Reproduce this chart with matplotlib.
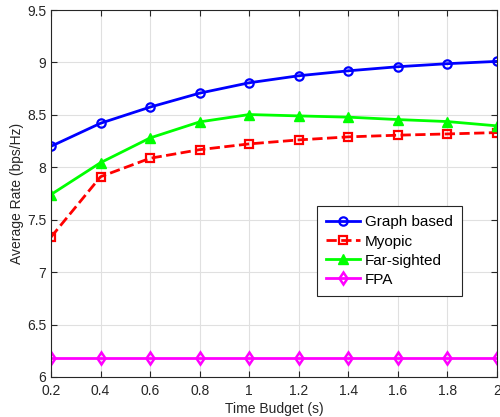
import matplotlib.pyplot as plt

plt.rcParams["font.family"] = ["Liberation Sans", "DejaVu Sans"]

time_budget = [0.2, 0.4, 0.6, 0.8, 1.0, 1.2, 1.4, 1.6, 1.8, 2.0]
graph_based = [8.20, 8.42, 8.574, 8.707, 8.806, 8.873, 8.92, 8.959, 8.988, 9.01]
myopic = [7.334, 7.91, 8.086, 8.168, 8.223, 8.261, 8.29, 8.306, 8.318, 8.331]
far_sighted = [7.74, 8.044, 8.28, 8.433, 8.503, 8.49, 8.478, 8.455, 8.436, 8.395]
fpa = [6.18] * len(time_budget)

fig = plt.figure(figsize=(5.0, 4.17), dpi=100)
ax = fig.add_axes([0.102, 0.096, 0.892, 0.880])

ax.plot(time_budget, graph_based, "-o", color="#0000ff", linewidth=2,
        markersize=6, markerfacecolor="none", markeredgewidth=1.6,
        label="Graph based")
ax.plot(time_budget, myopic, "--s", color="#ff0000", linewidth=2,
        markersize=5.5, markerfacecolor="none", markeredgewidth=1.6,
        label="Myopic")
ax.plot(time_budget, far_sighted, "-^", color="#00ff00", linewidth=2,
        markersize=7, label="Far-sighted")
ax.plot(time_budget, fpa, "-d", color="#ff00ff", linewidth=2,
        markersize=6, markerfacecolor="none", markeredgewidth=1.8,
        label="FPA")

ax.set_xlim(0.2, 2.0)
ax.set_ylim(6, 9.5)
ax.set_xticks([0.2, 0.4, 0.6, 0.8, 1.0, 1.2, 1.4, 1.6, 1.8, 2.0])
ax.set_xticklabels(["0.2", "0.4", "0.6", "0.8", "1", "1.2", "1.4", "1.6", "1.8", "2"])
ax.set_yticks([6, 6.5, 7, 7.5, 8, 8.5, 9, 9.5])
ax.set_yticklabels(["6", "6.5", "7", "7.5", "8", "8.5", "9", "9.5"])

ax.grid(True, color="#e0e0e0", linewidth=0.8)
ax.set_axisbelow(True)
ax.tick_params(direction="in", top=True, right=True, labelsize=10,
               colors="#262626", length=4)
ax.tick_params(axis="x", pad=5)
for spine in ax.spines.values():
    spine.set_color("#262626")
    spine.set_linewidth(0.8)

ax.set_xlabel("Time Budget (s)", fontsize=10, color="#262626", labelpad=3)
ax.set_ylabel("Average Rate (bps/Hz)", fontsize=10, color="#262626", labelpad=2)

leg = ax.legend(loc="upper left", bbox_to_anchor=(0.596, 0.465), fontsize=11,
                fancybox=False, framealpha=1, edgecolor="#262626",
                borderpad=0.6, labelspacing=0.33, handlelength=2.2,
                handletextpad=0.35, borderaxespad=0)
leg.get_frame().set_linewidth(0.8)

fig.savefig("out.png", dpi=100)
